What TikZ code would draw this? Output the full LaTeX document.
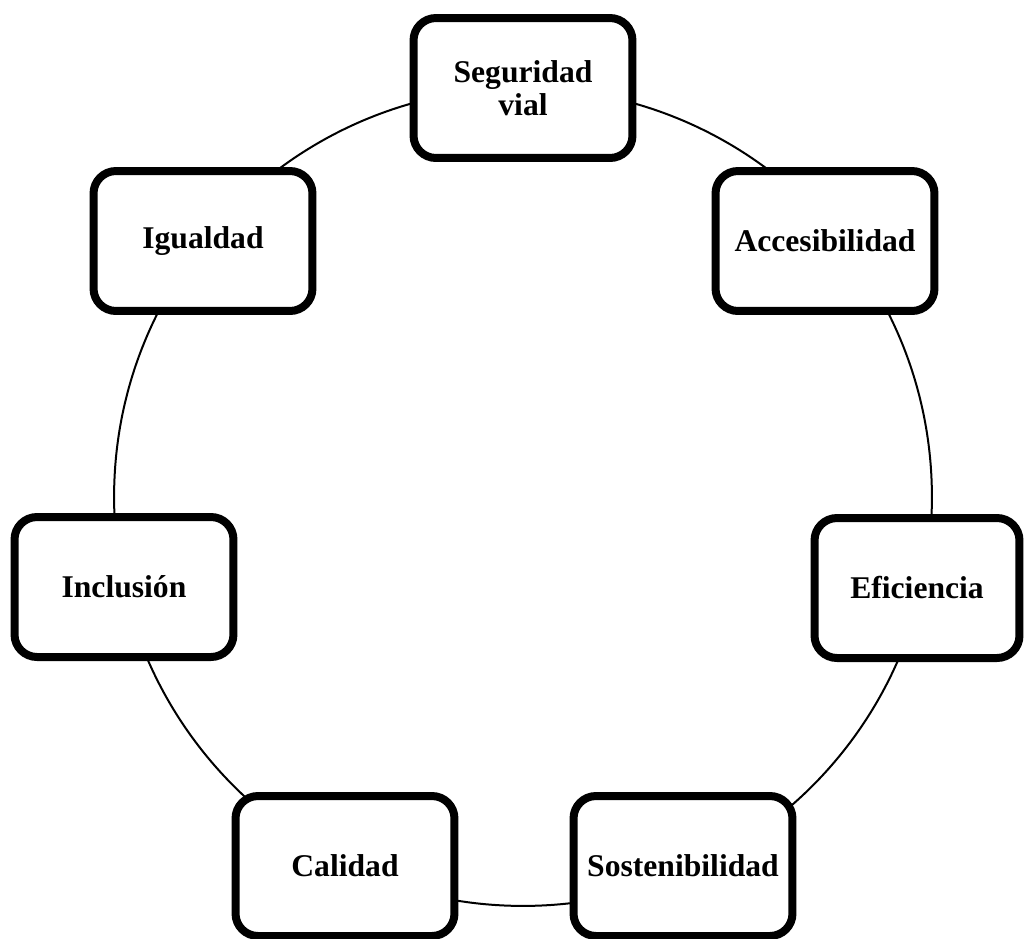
\documentclass[tikz,border=0pt]{standalone}
\usepackage{fontspec}
\setmainfont{Liberation Serif}
\usetikzlibrary{shadows}

\tikzset{
  valor/.style={draw, line width=0.16cm, rounded corners=0.45cm, fill=white,
    minimum width=4.38cm, minimum height=2.8cm, align=center,
    font=\bfseries\fontsize{18}{19}\selectfont,
    drop shadow={shadow xshift=0.05cm, shadow yshift=-0.06cm, opacity=0.3}},
}

\begin{document}
\begin{tikzpicture}[x=0.02cm,y=-0.02cm]

\useasboundingbox (0,0) rectangle (1025,938);

\coordinate (O) at (523,497);
\draw[line width=0.04cm] (O) circle (8.18cm);

\node[valor] (seguridad) at (523,88) {Seguridad\\vial};
\node[valor] (accesib) at (825,241) {Accesibilidad};
\node[valor, minimum width=4.1cm] (eficiencia) at (917,588) {Eficiencia};
\node[valor] (sostenib) at (683,866) {Sostenibilidad};
\node[valor] (calidad) at (345,866) {Calidad};
\node[valor] (inclusion) at (124,587) {Inclusión};
\node[valor] (igualdad) at (203,241) {Igualdad};

\end{tikzpicture}
\end{document}
